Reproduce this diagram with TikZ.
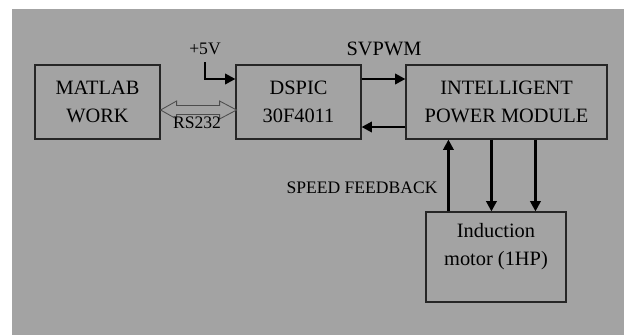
\documentclass[tikz,border=0pt]{standalone}
\usepackage{fontspec}
\setmainfont{Liberation Serif}
\usetikzlibrary{arrows.meta}
\definecolor{panelgray}{RGB}{163,163,163}
\tikzset{
  blk/.style={draw=black!85,line width=0.8pt,align=center,inner sep=0pt,font=\fontsize{14.5}{20}\selectfont},
  tag/.style={inner sep=0pt,align=center,font=\fontsize{14.5}{20}\selectfont},
  lbl/.style={inner sep=0pt,font=\fontsize{12.5}{15}\selectfont},
  bus/.style={line width=1.8pt,-{Triangle[length=0.26cm,width=0.26cm]}},
  rsarrow/.style={draw=black!70,line width=0.6pt,fill=panelgray}
}

\begin{document}
\begin{tikzpicture}[x=0.025cm,y=-0.025cm,line width=0.3pt]
\useasboundingbox (0,0) rectangle (624,335);
\fill[panelgray] (12,9) rectangle (624,335);
\node[blk,minimum width=3.125cm,minimum height=1.85cm] (matlab) at (97.5,102) {MATLAB\\WORK};
\node[blk,minimum width=3.125cm,minimum height=1.85cm] (dspic) at (298.5,102) {DSPIC\\30F4011};
\node[blk,minimum width=5.025cm,minimum height=1.85cm] (ipm) at (506.5,102) {INTELLIGENT\\POWER MODULE};
\node[blk,minimum width=3.5cm,minimum height=2.25cm] (motor) at (496,257) {};
\node[tag] (motorlbl) at ([yshift=0.25cm]motor.center) {Induction\\motor (1HP)};
\node[lbl,anchor=south] (vcclbl) at (205,55) {+5V};
\node[tag] (svpwm) at (384,49) {SVPWM};
\node[lbl] (fblbl) at (362,188) {SPEED FEEDBACK};
\coordinate (fb) at ([xshift=0.575cm]motor.north west);
\coordinate (ph1) at ([xshift=1.65cm]motor.north west);
\coordinate (ph2) at ([xshift=2.75cm]motor.north west);
\draw[rsarrow] ([yshift=-0.2cm]matlab.east) -- ++(16,-9) -- ++(0,4.5) -- ++(43,0) -- ++(0,-4.5) -- ++(17,9) -- ++(-17,9) -- ++(0,-4.5) -- ++(-43,0) -- ++(0,4.5) -- cycle;
\node[lbl] (rs) at (197,123) {RS232};
\draw[bus] ([yshift=-0.175cm]vcclbl.south) |- ([yshift=0.575cm]dspic.west);
\draw[bus] ([yshift=0.575cm]dspic.east) -- ([yshift=0.575cm]ipm.west);
\draw[bus] ([yshift=-0.625cm]ipm.west) -- ([yshift=-0.625cm]dspic.east);
\draw[bus] (fb) -- (fb |- ipm.south);
\draw[bus] (ph1 |- ipm.south) -- (ph1);
\draw[bus] (ph2 |- ipm.south) -- (ph2);
\end{tikzpicture}
\end{document}
